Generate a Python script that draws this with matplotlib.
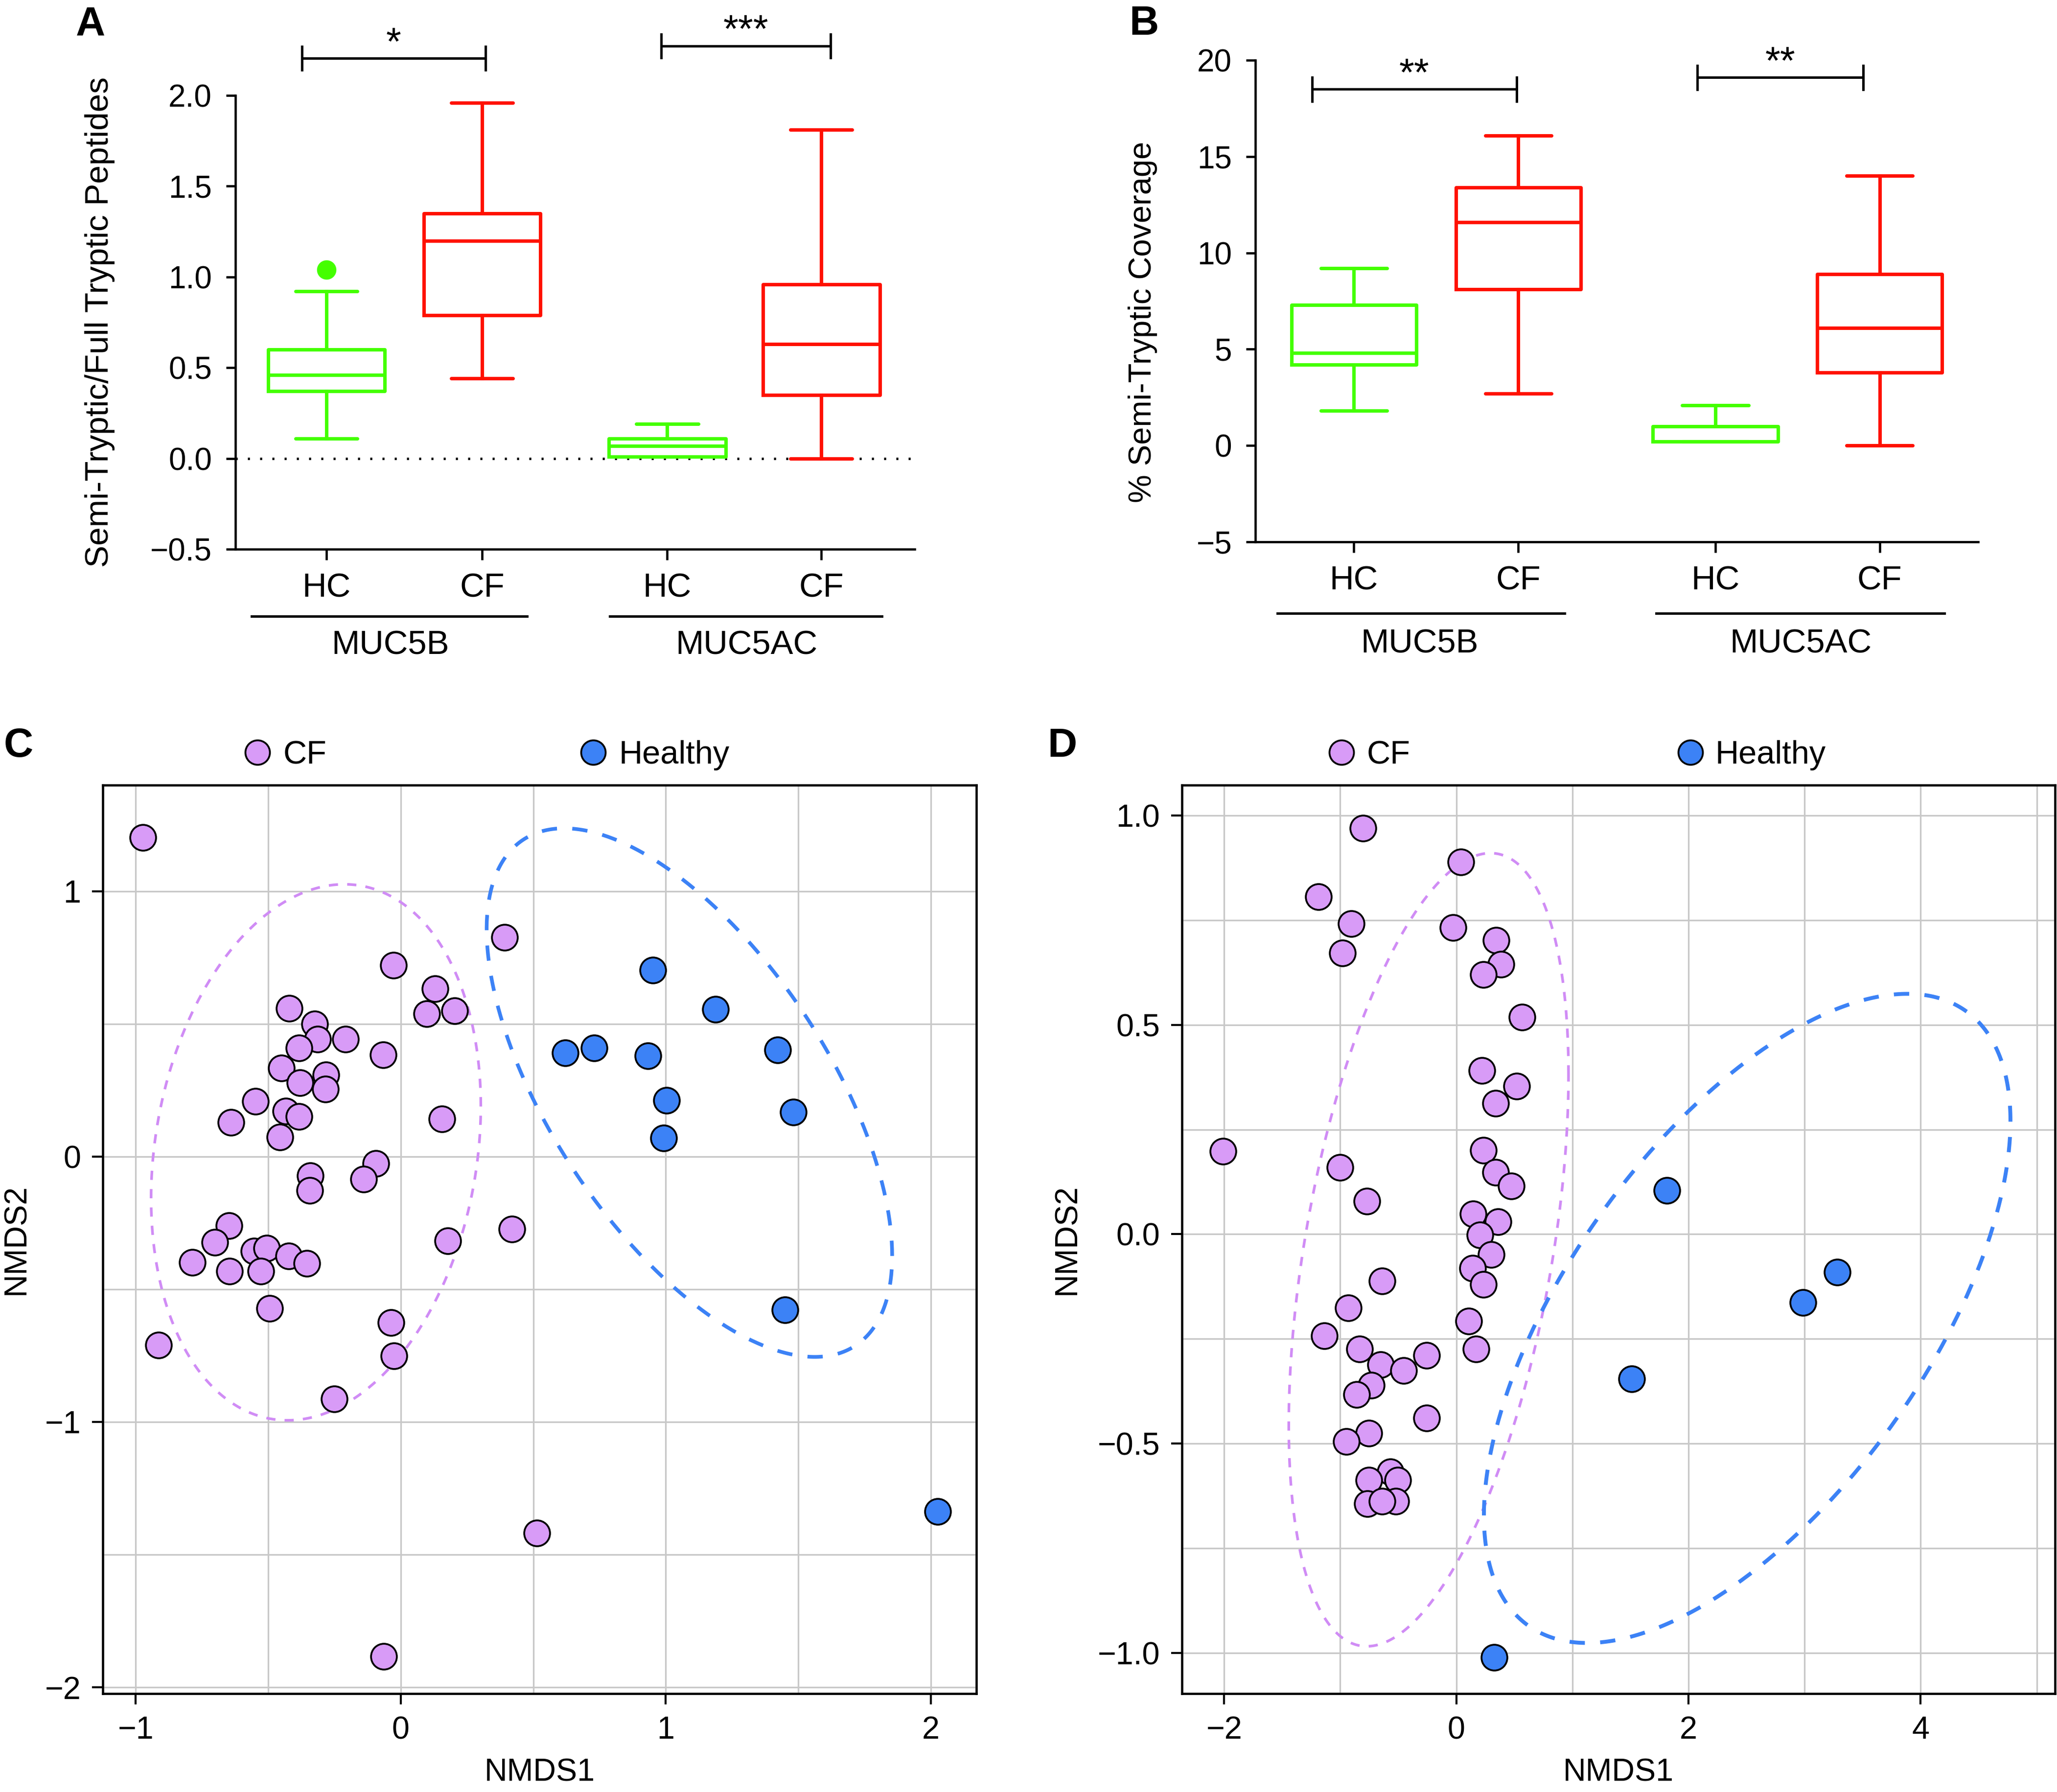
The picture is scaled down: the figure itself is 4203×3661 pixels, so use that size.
import numpy as np
import matplotlib.pyplot as plt
import matplotlib.transforms as mtransforms
from matplotlib.lines import Line2D

plt.rcParams['font.family'] = ['Liberation Sans', 'DejaVu Sans']
plt.rcParams['lines.scale_dashes'] = False

# ---- data -----------------------------------------------------------
groups = ['HC', 'CF', 'HC', 'CF']
genes = ['MUC5B', 'MUC5AC']

# panel A: semi-tryptic / full tryptic peptides (box summaries)
a_whislo = [0.11, 0.44, 0.01, 0.00]
a_q1 = [0.37, 0.79, 0.01, 0.35]
a_med = [0.46, 1.20, 0.07, 0.63]
a_q3 = [0.60, 1.35, 0.11, 0.96]
a_whishi = [0.92, 1.96, 0.19, 1.81]
a_fliers = [[1.04], [], [], []]
a_signif = ['*', '***']

# panel B: % semi-tryptic coverage
b_whislo = [1.8, 2.7, 0.2, 0.0]
b_q1 = [4.2, 8.1, 0.2, 3.8]
b_med = [4.8, 11.6, 0.2, 6.1]
b_q3 = [7.3, 13.4, 1.0, 8.9]
b_whishi = [9.2, 16.1, 2.1, 14.0]
b_fliers = [[], [], [], []]
b_signif = ['**', '**']

# panel C: NMDS
c_cf_x = [-0.972, -0.027, 0.129, 0.099, 0.203, -0.420, -0.324, -0.314, -0.383,
          -0.208, -0.067, -0.450, -0.282, -0.381, -0.284, -0.549, -0.641, -0.433,
          -0.383, -0.455, 0.156, -0.094, -0.141, -0.341, -0.344, 0.391, 0.420,
          0.178, -0.648, -0.702, -0.787, -0.646, -0.554, -0.505, -0.527, -0.423,
          -0.354, -0.495, -0.913, -0.037, -0.025, -0.250, 0.514, -0.064]
c_cf_y = [1.202, 0.721, 0.632, 0.539, 0.549, 0.559, 0.500, 0.442, 0.409,
          0.442, 0.383, 0.333, 0.307, 0.278, 0.255, 0.208, 0.128, 0.172,
          0.151, 0.073, 0.141, -0.026, -0.086, -0.073, -0.128, 0.827, -0.273,
          -0.317, -0.260, -0.323, -0.398, -0.432, -0.356, -0.346, -0.432, -0.375,
          -0.403, -0.572, -0.710, -0.625, -0.752, -0.913, -1.418, -1.884]
c_h_x = [0.952, 1.187, 0.621, 0.730, 0.932, 1.422, 1.002, 1.482, 0.992, 1.449, 2.026]
c_h_y = [0.703, 0.554, 0.390, 0.409, 0.380, 0.401, 0.211, 0.167, 0.070, -0.578, -1.337]
# ellipse: centre x, centre y, half-width, half-height, correlation
c_cf_ell = [-0.32, 0.016, 0.622, 1.010, 0.172]
c_h_ell = [1.089, 0.241, 0.765, 0.996, -0.618]

# panel D: NMDS
d_cf_x = [-0.803, -1.188, -0.905, -0.979, 0.040, -0.028, 0.345, 0.385, 0.232,
          0.566, 0.221, 0.520, 0.339, -2.008, 0.232, 0.339, 0.475, -1.001,
          -0.769, 0.147, 0.362, 0.204, 0.300, 0.141, 0.232, -0.639, -0.928,
          -1.137, 0.107, 0.170, -0.831, -0.650, -0.452, -0.255, -0.730, -0.860,
          -0.255, -0.752, -0.945, -0.566, -0.752, -0.503, -0.764, -0.520, -0.639]
d_cf_y = [0.970, 0.806, 0.742, 0.671, 0.889, 0.732, 0.702, 0.645, 0.620,
          0.518, 0.391, 0.353, 0.313, 0.198, 0.201, 0.148, 0.115, 0.160,
          0.079, 0.048, 0.030, -0.002, -0.049, -0.081, -0.120, -0.112, -0.176,
          -0.242, -0.208, -0.274, -0.274, -0.312, -0.325, -0.289, -0.361, -0.383,
          -0.439, -0.475, -0.495, -0.567, -0.587, -0.587, -0.643, -0.638, -0.638]
d_h_x = [1.816, 3.281, 2.986, 1.510, 0.328]
d_h_y = [0.104, -0.091, -0.163, -0.346, -1.011]
d_cf_ell = [-0.238, -0.037, 1.205, 0.947, 0.442]
d_h_ell = [2.506, -0.201, 2.268, 0.775, 0.608]

GREEN = '#44FF00'
RED = '#FF1100'
PURPLE = '#D89BF7'
PURPLE_LINE = '#D08CF5'
BLUE = '#3C82F6'
box_colors = [GREEN, RED, GREEN, RED]


def fmt(v, nd):
    return f'{v:.{nd}f}'.replace('-', '\u2212')


def box_panel(ax, lo, q1, med, q3, hi, fliers, pos, width, brackets, signif,
              tick_half, star_off, glines, gcenters):
    for i in range(4):
        st = [dict(whislo=lo[i], q1=q1[i], med=med[i], q3=q3[i], whishi=hi[i],
                   fliers=fliers[i])]
        col = box_colors[i]
        ax.bxp(st, positions=[pos[i]], widths=width, capwidths=width * 0.53,
               boxprops=dict(color=col, lw=1.7),
               medianprops=dict(color=col, lw=1.7),
               whiskerprops=dict(color=col, lw=1.7),
               capprops=dict(color=col, lw=1.7, solid_capstyle='round'),
               flierprops=dict(marker='o', markerfacecolor=col, markeredgecolor=col,
                               markersize=8.5),
               manage_ticks=False)
    ax.spines['top'].set_visible(False)
    ax.spines['right'].set_visible(False)
    for s in ['left', 'bottom']:
        ax.spines[s].set_linewidth(1.1)
    ax.set_xticks(pos, groups)
    ax.tick_params(axis='x', length=5.3, width=1.1, pad=6, labelsize=16.5)
    ax.tick_params(axis='y', length=4.5, width=1.1, pad=7, labelsize=15.3)
    # significance brackets
    for (x0, x1, yb), s in zip(brackets, signif):
        ax.plot([x0, x0, x1, x1], [yb - tick_half, yb, yb, yb - tick_half],
                color='black', lw=1.2, clip_on=False)
        ax.plot([x0, x0], [yb, yb + tick_half], color='black', lw=1.2, clip_on=False)
        ax.plot([x1, x1], [yb, yb + tick_half], color='black', lw=1.2, clip_on=False)
        ax.text((x0 + x1) / 2, yb + star_off, s, ha='center', va='baseline',
                fontsize=19, clip_on=False)
    # gene group lines
    trans = mtransforms.blended_transform_factory(ax.transData, ax.transAxes)
    for (g0, g1), gc, name in zip(glines, gcenters, genes):
        ax.plot([g0, g1], [-0.148, -0.148], color='black', lw=1.2,
                transform=trans, clip_on=False)
        ax.text(gc, -0.212, name, transform=trans, ha='center', va='center',
                fontsize=16.5)


def nmds_panel(ax, cf_x, cf_y, h_x, h_y, cf_ell, h_ell, xlim, ylim,
               xmaj, xmin, ymaj, ymin, ynd, ell_lw):
    t = np.linspace(0, 2 * np.pi, 400)
    for e, col, lw, dash in [(cf_ell, PURPLE_LINE, ell_lw[0], (4.5, 4.5)),
                             (h_ell, BLUE, ell_lw[1], (7.5, 7.5))]:
        cx, cy, sx, sy, r = e
        ex = cx + sx * np.cos(t)
        ey = cy + sy * (r * np.cos(t) + np.sqrt(1 - r ** 2) * np.sin(t))
        ax.plot(ex, ey, color=col, lw=lw, dashes=dash, zorder=2)
    ax.scatter(cf_x, cf_y, s=160, c=PURPLE, edgecolors='black', linewidths=0.9,
               zorder=3)
    ax.scatter(h_x, h_y, s=160, c=BLUE, edgecolors='black', linewidths=0.9,
               zorder=3)
    ax.set_xlim(xlim)
    ax.set_ylim(ylim)
    ax.set_xticks(xmaj, [fmt(v, 0) for v in xmaj])
    ax.set_xticks(xmin, minor=True)
    ax.set_yticks(ymaj, [fmt(v, ynd) for v in ymaj])
    ax.set_yticks(ymin, minor=True)
    ax.grid(True, which='both', color='#C8C8C8', lw=0.8)
    ax.set_axisbelow(True)
    ax.tick_params(which='major', length=5.3, width=1.0, pad=5.5, labelsize=15.5)
    ax.tick_params(which='minor', length=0)
    for s in ax.spines.values():
        s.set_linewidth(1.1)
    ax.set_xlabel('NMDS1', fontsize=15.5, va='center')
    ax.set_ylabel('NMDS2', fontsize=15.5, va='center')
    ax.xaxis.set_label_coords(0.5, -0.087)
    handles = [Line2D([], [], ls='none', marker='o', markersize=12,
                      markerfacecolor=PURPLE, markeredgecolor='black', markeredgewidth=0.9),
               Line2D([], [], ls='none', marker='o', markersize=12,
                      markerfacecolor=BLUE, markeredgecolor='black', markeredgewidth=0.9)]
    return handles


fig = plt.figure(figsize=(4203 / 300, 3661 / 300), dpi=300)

# ---- A ---------------------------------------------------------------
ax_a = fig.add_axes([0.1144, 0.6935, 0.3303, 0.2533])
pos_a = [1, 2, 3.19, 4.18]
ax_a.axhline(0, color='black', lw=1.2, ls=(0, (1, 5)), zorder=0)
box_panel(ax_a, a_whislo, a_q1, a_med, a_q3, a_whishi, a_fliers, pos_a, 0.75,
          [(0.843, 2.022, 2.204), (3.15, 4.24, 2.272)], a_signif, 0.064, 0.02,
          [(0.52, 2.29), (2.82, 4.57)], [1.41, 3.70])
ax_a.set_xlim(0.415, 4.78)
ax_a.set_ylim(-0.5, 2.0)
a_ticks = [-0.5, 0.0, 0.5, 1.0, 1.5, 2.0]
ax_a.set_yticks(a_ticks, [fmt(v, 1) for v in a_ticks])
ax_a.set_ylabel('Semi-Tryptic/Full Tryptic Peptides', fontsize=16.2, va='center')
ax_a.yaxis.set_label_coords(-0.1996, 0.5)

# ---- B ---------------------------------------------------------------
ax_b = fig.add_axes([0.6103, 0.6976, 0.3514, 0.2688])
pos_b = [1, 2, 3.2, 4.2]
box_panel(ax_b, b_whislo, b_q1, b_med, b_q3, b_whishi, b_fliers, pos_b, 0.76,
          [(0.746, 1.99, 18.49), (3.09, 4.10, 19.10)], b_signif, 0.62, 0.2,
          [(0.533, 2.284), (2.84, 4.595)], [1.40, 3.72])
ax_b.set_xlim(0.40, 4.80)
ax_b.set_ylim(-5, 20)
b_ticks = [-5, 0, 5, 10, 15, 20]
ax_b.set_yticks(b_ticks, [fmt(v, 0) for v in b_ticks])
ax_b.set_ylabel('% Semi-Tryptic Coverage', fontsize=15.6, va='center')
ax_b.yaxis.set_label_coords(-0.156, 0.456)

# ---- C ---------------------------------------------------------------
ax_c = fig.add_axes([0.0500, 0.0549, 0.4247, 0.5070])
h = nmds_panel(ax_c, c_cf_x, c_cf_y, c_h_x, c_h_y, c_cf_ell, c_h_ell,
               (-1.124, 2.172), (-2.024, 1.40),
               [-1, 0, 1, 2], np.arange(-1, 2.01, 0.5),
               [-2, -1, 0, 1], np.arange(-2, 1.01, 0.5), 0, (1.3, 1.8))
ax_c.yaxis.set_label_coords(-0.099, 0.5)
fig.legend(h, ['CF', 'Healthy'], loc='center left', bbox_to_anchor=(0.1173, 0.5785),
           ncol=2, frameon=False, fontsize=16, handlelength=1.0, handletextpad=0.29,
           columnspacing=7.66, borderpad=0, borderaxespad=0)

# ---- D ---------------------------------------------------------------
ax_d = fig.add_axes([0.5746, 0.0549, 0.4245, 0.5070])
h = nmds_panel(ax_d, d_cf_x, d_cf_y, d_h_x, d_h_y, d_cf_ell, d_h_ell,
               (-2.363, 5.159), (-1.097, 1.0725),
               [-2, 0, 2, 4], np.arange(-2, 5.01, 1),
               [-1.0, -0.5, 0.0, 0.5, 1.0], np.arange(-1, 1.01, 0.25), 1, (1.3, 1.9))
ax_d.yaxis.set_label_coords(-0.1317, 0.5)
fig.legend(h, ['CF', 'Healthy'], loc='center left', bbox_to_anchor=(0.6443, 0.5785),
           ncol=2, frameon=False, fontsize=16, handlelength=1.0, handletextpad=0.27,
           columnspacing=8.08, borderpad=0, borderaxespad=0)

# panel letters
for x, y, s in [(0.0369, 0.9803, 'A'), (0.5491, 0.9806, 'B'),
                (0.0017, 0.5777, 'C'), (0.5092, 0.5777, 'D')]:
    fig.text(x, y, s, fontsize=20, fontweight='bold', va='baseline', ha='left')

fig.savefig('out.png', dpi=300)
